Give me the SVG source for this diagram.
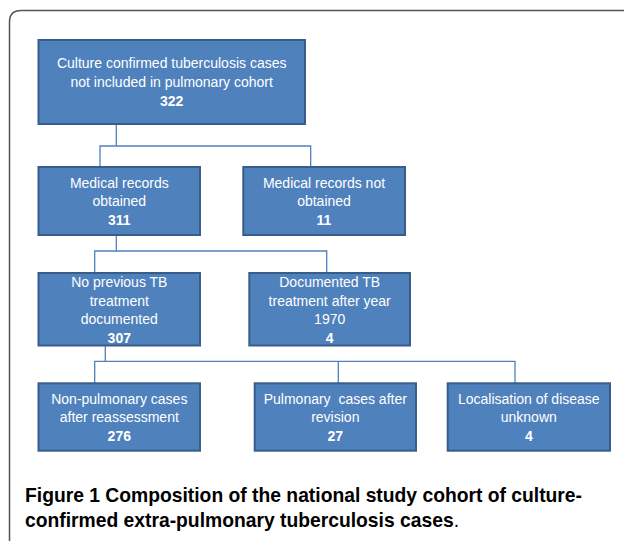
<svg xmlns="http://www.w3.org/2000/svg" width="624" height="543" viewBox="0 0 624 543">
<style>
.box{fill:#4F81BD;stroke:#385D8A;stroke-width:2}
.t{font-family:"Liberation Sans",Arial,sans-serif;font-size:14px;fill:#FFFFFF;text-anchor:middle}
.b{font-weight:bold}
.c{fill:none;stroke:#4F81BD;stroke-width:1.3}
.cap{font-family:"Liberation Sans",Arial,sans-serif;font-size:19.3px;fill:#000000;font-weight:600}
</style>
<rect width="624" height="543" fill="#FFFFFF"/>
<path d="M9.5 541 V22 Q9.5 10.5 21 10.5 H624" fill="none" stroke="#555555" stroke-width="1.5"/>
<g id="connectors">
<path class="c" d="M116.3 124 V146 M100 167 V146 H310.7 V167"/>
<path class="c" d="M116.3 235 V251 M94.7 273 V251 H326.7 V273"/>
<path class="c" d="M105.3 345 V361.3 M94.7 383 V361.3 H515 V383 M338.3 361.3 V383"/>
</g>
<g id="n1">
<rect class="box" x="38.5" y="40" width="266.5" height="84"/>
<text class="t" x="171.7" y="68">Culture confirmed tuberculosis cases</text>
<text class="t" x="171.7" y="87">not included in pulmonary cohort</text>
<text class="t b" x="171.7" y="106">322</text>
</g>
<g id="n2">
<rect class="box" x="38.5" y="167" width="161.5" height="68"/>
<text class="t" x="119.3" y="187.5">Medical records</text>
<text class="t" x="119.3" y="206">obtained</text>
<text class="t b" x="119.3" y="225">311</text>
</g>
<g id="n3">
<rect class="box" x="243.3" y="167" width="161.7" height="68"/>
<text class="t" x="324" y="187.5">Medical records not</text>
<text class="t" x="324" y="206">obtained</text>
<text class="t b" x="324" y="225">11</text>
</g>
<g id="n4">
<rect class="box" x="38.5" y="273" width="161.5" height="72.5"/>
<text class="t" x="119.3" y="287">No previous TB</text>
<text class="t" x="119.3" y="305.5">treatment</text>
<text class="t" x="119.3" y="324">documented</text>
<text class="t b" x="119.3" y="343">307</text>
</g>
<g id="n5">
<rect class="box" x="249.3" y="273" width="160.7" height="72.5"/>
<text class="t" x="329.7" y="287">Documented TB</text>
<text class="t" x="329.7" y="305.5">treatment after year</text>
<text class="t" x="329.7" y="324">1970</text>
<text class="t b" x="329.7" y="343">4</text>
</g>
<g id="n6">
<rect class="box" x="38.5" y="383.3" width="161.5" height="67.4"/>
<text class="t" x="119.3" y="403.5">Non-pulmonary cases</text>
<text class="t" x="119.3" y="422">after reassessment</text>
<text class="t b" x="119.3" y="441">276</text>
</g>
<g id="n7">
<rect class="box" x="254.7" y="383.3" width="161.3" height="67.4"/>
<text class="t" x="335.3" y="403.5" xml:space="preserve">Pulmonary  cases after</text>
<text class="t" x="335.3" y="422">revision</text>
<text class="t b" x="335.3" y="441">27</text>
</g>
<g id="n8">
<rect class="box" x="447.7" y="383.3" width="162.3" height="67.4"/>
<text class="t" x="528.8" y="403.5">Localisation of disease</text>
<text class="t" x="528.8" y="422">unknown</text>
<text class="t b" x="528.8" y="441">4</text>
</g>
<g id="caption">
<text class="cap" x="25" y="501.5"><tspan font-weight="bold">Figure 1</tspan> Composition of the national study cohort of culture-</text>
<text class="cap" x="25" y="527">confirmed extra-pulmonary tuberculosis cases<tspan font-weight="normal">.</tspan></text>
</g>
</svg>
